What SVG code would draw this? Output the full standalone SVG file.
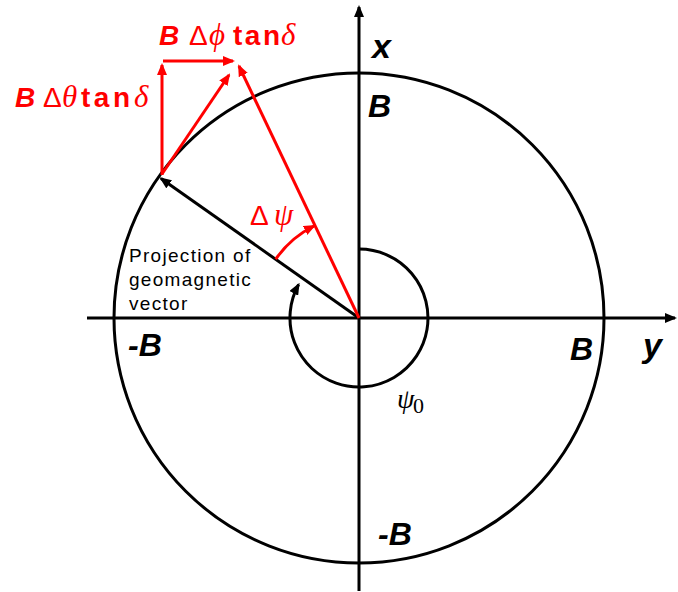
<svg xmlns="http://www.w3.org/2000/svg" width="678" height="592" viewBox="0 0 678 592">
<defs>
<style>
.ax{stroke:#000;stroke-width:3;fill:none}
.bk{stroke:#000;stroke-width:3;fill:none}
.rd{stroke:#ff0000;stroke-width:3;fill:none}
.lbl{font-family:"Liberation Sans",Arial,sans-serif;font-weight:bold;font-style:italic;font-size:32px;fill:#000}
.red{fill:#ff0000;font-size:28px}
.sans{font-family:"Liberation Sans",Arial,sans-serif}
.serif{font-family:"Liberation Serif","Times New Roman",serif}
.gk{font-family:"Liberation Serif","Times New Roman",serif;font-style:italic;font-size:31px}
.proj{font-family:"Liberation Sans",Arial,sans-serif;font-size:19px;letter-spacing:1.3px;fill:#000}
</style>
<marker id="ab" viewBox="0 0 12 10" refX="10" refY="5" markerWidth="12" markerHeight="10" markerUnits="userSpaceOnUse" orient="auto"><path d="M0,0 L12,5 L0,10 z" fill="#000"/></marker>
<marker id="ar" viewBox="0 0 12 10" refX="10" refY="5" markerWidth="12" markerHeight="10" markerUnits="userSpaceOnUse" orient="auto"><path d="M0,0 L12,5 L0,10 z" fill="#ff0000"/></marker>
</defs>
<rect width="678" height="592" fill="#fff"/>

<g id="axes">
<line class="ax" x1="359" y1="591" x2="359" y2="7" marker-end="url(#ab)"/>
<line class="ax" x1="87" y1="318" x2="675" y2="318" marker-end="url(#ab)"/>
</g>

<g id="circle">
<circle class="bk" cx="359" cy="318" r="245"/>
</g>

<g id="connectors">
<line class="bk" x1="359" y1="318" x2="161" y2="178.5" marker-end="url(#ab)"/>
<path class="bk" d="M359 249 A69 69 0 1 1 298.6 284.6" marker-end="url(#ab)"/>
<line class="rd" x1="359" y1="318" x2="239" y2="66" marker-end="url(#ar)"/>
<line class="rd" x1="162" y1="175" x2="162" y2="65" marker-end="url(#ar)"/>
<line class="rd" x1="163" y1="61" x2="233" y2="61" marker-end="url(#ar)"/>
<line class="rd" x1="162" y1="174" x2="229" y2="75" marker-end="url(#ar)"/>
<path class="rd" d="M275.7 259.2 A102 102 0 0 1 314 226" marker-end="url(#ar)"/>
</g>

<g id="labels">
<text class="lbl" x="372" y="58" style="font-size:34px">x</text>
<text class="lbl" x="368" y="117">B</text>
<text class="lbl" x="570" y="360">B</text>
<text class="lbl" x="643" y="357" style="font-size:34px">y</text>
<text class="lbl" x="128" y="356">-B</text>
<text class="lbl" x="378" y="545">-B</text>
<text class="serif" x="397" y="408" font-size="28" font-style="italic" fill="#000">ψ<tspan x="413" y="413" font-style="normal" font-size="22">0</tspan></text>
</g>

<g id="red-labels">
<text class="red" y="45"><tspan x="159" class="sans" font-weight="bold" font-style="italic">B</tspan><tspan x="189" class="sans">Δ</tspan><tspan x="209" class="gk">ϕ</tspan><tspan x="233" class="sans" font-weight="bold" letter-spacing="2.5">tan</tspan><tspan x="281" class="gk">δ</tspan></text>
<text class="red" y="107"><tspan x="15" class="sans" font-weight="bold" font-style="italic">B</tspan><tspan x="43" class="sans">Δ</tspan><tspan x="62" class="gk">θ</tspan><tspan x="81" class="sans" font-weight="bold" letter-spacing="3.5">tan</tspan><tspan x="134" class="gk">δ</tspan></text>
<text class="red" y="225"><tspan x="250" class="sans">Δ</tspan><tspan x="274" class="gk">ψ</tspan></text>
</g>

<g id="projection-label">
<text class="proj" x="129" y="262">Projection of</text>
<text class="proj" x="129" y="286">geomagnetic</text>
<text class="proj" x="129" y="310">vector</text>
</g>
</svg>
